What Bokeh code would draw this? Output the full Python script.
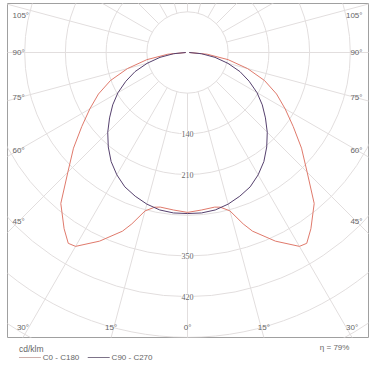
import numpy as np
from bokeh.plotting import figure
from bokeh.models import Range1d, ColumnDataSource, LabelSet
from bokeh.layouts import column
from bokeh.core.properties import value
from bokeh.embed import file_html
from bokeh.resources import INLINE

# ---- data (cd/klm) ----
red_gamma = [0, 5, 10, 12, 15, 18, 20, 25, 30, 32, 35, 40, 45, 50, 55, 60, 65, 70, 75, 80, 85, 90]
red_cd = [275, 272, 270, 272, 282, 310, 327, 358, 385, 387, 370, 339, 291, 256, 222, 194, 169, 141, 107, 71, 34, 3]
purple_gamma = [0, 5, 10, 15, 20, 25, 30, 35, 40, 45, 50, 55, 60, 65, 70, 75, 80, 85, 90]
purple_cd = [277, 277, 275, 270, 263, 255, 243, 229, 212, 194, 175, 157, 138, 117, 96, 72, 48, 24, 3]
ring_values = [70, 140, 210, 280, 350, 420, 490, 560, 630, 700]
ring_labels = [140, 210, 350, 420]
side_angles = [105, 90, 75, 60, 45]
bottom_angles = [-30, -15, 0, 15, 30]
spoke_angles = list(range(0, 360, 15))
legend_names = ["C0 - C180", "C90 - C270"]
unit_label = "cd/klm"
efficiency = "η = 79%"

S = 70 / 40.7  # cd per pixel
GRID = "#e2dede"
RED = "#e07a6c"
PURPLE = "#56416e"
TXT = "#666666"
FONT = value("Liberation Sans")

p = figure(width=378, height=340, output_backend="svg", toolbar_location=None,
           x_range=Range1d(-180 * S, 181 * S), y_range=Range1d(-285 * S, 49 * S),
           x_axis_type=None, y_axis_type=None,
           min_border_left=7, min_border_right=10, min_border_top=3, min_border_bottom=3)
p.grid.visible = False
p.outline_line_color = "#a0a0a0"
p.outline_line_width = 1
p.background_fill_color = "white"
p.border_fill_color = "white"

# rings
p.circle(x=[0] * len(ring_values), y=[0] * len(ring_values), radius=ring_values,
         fill_color=None, line_color=GRID, line_width=1)

# spokes
a = np.radians(spoke_angles)
r0, r1 = ring_values[0], 1000
p.segment(x0=r0 * np.sin(a), y0=-r0 * np.cos(a), x1=r1 * np.sin(a), y1=-r1 * np.cos(a),
          line_color=GRID, line_width=1)

def curve(gam, cd):
    g = np.radians(gam)
    r = np.array(cd, dtype=float)
    xl, yl = -r * np.sin(g), -r * np.cos(g)
    xr, yr = r * np.sin(g), -r * np.cos(g)
    return np.concatenate([xl[::-1], xr[1:]]), np.concatenate([yl[::-1], yr[1:]])

rx, ry = curve(red_gamma, red_cd)
p.line(rx, ry, line_color=RED, line_width=1)
px_, py_ = curve(purple_gamma, purple_cd)
p.line(px_, py_, line_color=PURPLE, line_width=1)

# radial labels
src = ColumnDataSource(dict(x=[0] * len(ring_labels), y=[-v for v in ring_labels],
                            t=[str(v) for v in ring_labels]))
p.add_layout(LabelSet(x="x", y="y", text="t", source=src, text_align="center",
                      text_baseline="middle", text_font_size="8px", text_color=TXT,
                      text_font="Liberation Sans",
                      background_fill_color="white"))

# angle labels
tx, ty, tt, ta = [], [], [], []
for side in (-1, 1):
    for ang in side_angles:
        yy = -169 / np.tan(np.radians(ang)) if ang != 90 else 0.0
        yy = min(yy, 37)
        tx.append(side * 175 * S)
        ty.append(yy * S)
        tt.append(f"{ang}°")
        ta.append("left" if side < 0 else "right")
for ang in bottom_angles:
    tx.append(285 * np.tan(np.radians(ang)) * S)
    ty.append(-275 * S)
    tt.append(f"{abs(ang)}°")
    ta.append("center")
p.text(x=tx, y=ty, text=tt, text_align=ta, text_baseline="middle",
       text_font=FONT, text_font_size="8px", text_color=TXT)

# legend strip
q = figure(width=378, height=28, output_backend="svg", toolbar_location=None,
           x_range=Range1d(0, 378), y_range=Range1d(28, 0),
           x_axis_type=None, y_axis_type=None, min_border=0)
q.grid.visible = False
q.outline_line_color = None
q.text(x=[12], y=[8], text=[unit_label], text_align="left", text_baseline="middle",
       text_font=FONT, text_font_size="8.5px", text_color=TXT)
q.segment(x0=[12, 84], y0=[17, 17], x1=[35, 107], y1=[17, 17],
          line_color=["#cdb0ac", "#7d7388"], line_width=1)
q.text(x=[37, 109], y=[17, 17], text=legend_names, text_align="left", text_baseline="middle",
       text_font=FONT, text_font_size="8px", text_color=TXT)
q.text(x=[358], y=[7], text=[efficiency], text_align="right", text_baseline="middle",
       text_font=FONT, text_font_size="8px", text_color=TXT)

layout = column(p, q, spacing=0)
open("out.html", "w").write(file_html(layout, INLINE))
